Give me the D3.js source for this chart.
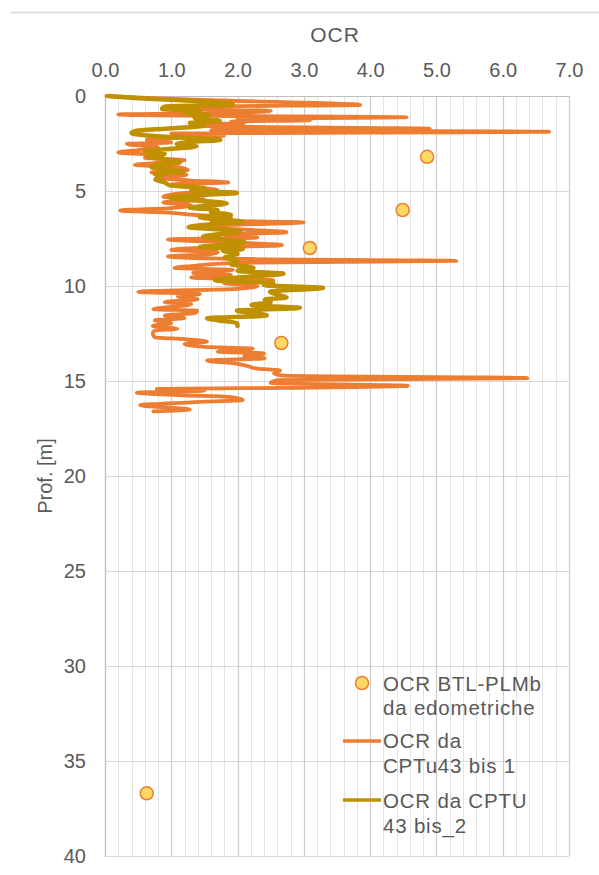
<!DOCTYPE html>
<html>
<head>
<meta charset="utf-8">
<script src="https://cdn.jsdelivr.net/npm/d3@7"></script>
<style>
  html, body { margin: 0; padding: 0; background: #ffffff; }
  svg { display: block; }
  text { font-family: "Liberation Sans", Arial, sans-serif; fill: #595959; }
</style>
</head>
<body>
<div id="chart"></div>
<script>
// OCR from oedometer tests (BTL-PLMb): [depth m, OCR]
const edoDepth = [3.2, 6.0, 8.0, 13.0, 36.7];
const edoOCR   = [4.86, 4.49, 3.09, 2.66, 0.63];

// OCR profile from CPTu43 bis 1: [depth m, OCR]
const cptu1 = [
  [0.00,0.02],[0.12,0.8],[0.25,1.9],[0.47,3.85],[0.55,1.7],[0.70,1.3],[0.78,2.5],[0.90,1.8],
  [0.97,0.2],[1.05,1.6],[1.12,4.55],[1.20,2.0],[1.27,3.1],[1.35,1.9],[1.42,2.1],[1.52,1.3],
  [1.62,2.0],[1.72,4.9],[1.80,1.6],[1.88,6.7],[1.98,1.0],[2.08,1.8],[2.20,1.1],[2.32,0.63],
  [2.45,1.0],[2.52,0.33],[2.70,0.8],[2.85,0.5],[2.97,0.2],[3.10,0.7],[3.25,0.6],[3.38,1.2],
  [3.50,0.9],[3.62,0.45],[3.75,1.1],[3.90,1.25],[4.02,0.7],[4.15,1.23],[4.30,0.8],[4.45,1.3],
  [4.55,1.86],[4.65,1.0],[4.80,1.3],[4.95,1.7],[5.10,1.2],[5.30,0.88],[5.45,1.5],[5.60,0.88],
  [5.75,1.3],[5.90,1.0],[6.02,0.23],[6.15,1.0],[6.25,1.33],[6.40,1.9],[6.55,1.6],[6.65,3.0],
  [6.78,1.9],[6.90,1.6],[7.05,2.2],[7.17,2.74],[7.30,1.8],[7.45,2.3],[7.55,0.95],[7.70,1.9],
  [7.85,2.67],[7.97,1.6],[8.10,1.0],[8.22,1.7],[8.32,1.6],[8.45,0.95],[8.58,2.2],[8.68,5.3],
  [8.78,2.0],[8.95,1.3],[9.05,1.05],[9.15,1.93],[9.30,1.33],[9.42,1.9],[9.55,1.3],[9.70,2.54],
  [9.85,1.8],[10.00,2.3],[10.15,2.0],[10.30,0.5],[10.42,1.43],[10.55,1.1],[10.70,1.4],[10.85,0.9],
  [10.95,1.3],[11.10,1.0],[11.22,0.73],[11.30,1.39],[11.42,1.36],[11.55,0.9],[11.68,1.2],[11.80,0.75],
  [11.95,1.0],[12.10,0.72],[12.25,1.09],[12.35,0.75],[12.50,0.72],[12.70,0.75],[12.80,1.2],[12.92,1.54],
  [13.05,1.2],[13.20,1.5],[13.30,2.23],[13.45,1.7],[13.55,2.4],[13.70,2.1],[13.80,2.41],[13.92,1.54],
  [14.05,1.9],[14.20,2.14],[14.35,2.3],[14.45,2.64],[14.60,2.55],[14.72,2.7],[14.85,6.37],[14.95,2.6],
  [15.10,2.5],[15.25,4.57],[15.35,3.1],[15.42,0.78],[15.50,1.5],[15.62,0.48],[15.75,1.2],[15.85,1.9],
  [16.00,2.08],[16.12,1.3],[16.28,0.53],[16.40,1.0],[16.50,1.28],[16.60,0.73]
];

// OCR profile from CPTU 43 bis_2: [depth m, OCR]
const cptu2 = [
  [0.00,0.05],[0.12,0.5],[0.25,1.3],[0.45,1.93],[0.55,0.9],[0.68,0.86],[0.78,1.43],[0.90,1.2],
  [1.00,1.58],[1.12,1.35],[1.22,1.39],[1.30,1.73],[1.42,1.28],[1.55,1.5],[1.70,1.0],[1.85,0.45],
  [1.95,0.4],[2.08,0.63],[2.20,1.2],[2.30,1.74],[2.42,1.3],[2.52,1.08],[2.65,1.38],[2.78,1.0],
  [2.92,0.6],[3.05,0.9],[3.20,0.65],[3.35,0.95],[3.50,1.13],[3.62,0.8],[3.75,0.7],[3.88,1.0],
  [4.00,1.18],[4.10,0.75],[4.25,0.85],[4.40,0.76],[4.55,0.9],[4.70,0.98],[4.85,1.5],[4.98,1.3],
  [5.10,1.99],[5.22,1.4],[5.35,0.98],[5.50,1.4],[5.65,1.84],[5.78,1.5],[5.88,1.28],[6.00,1.7],
  [6.12,1.6],[6.25,1.9],[6.38,1.43],[6.50,1.7],[6.62,2.08],[6.75,1.6],[6.90,1.26],[7.02,1.7],
  [7.15,2.04],[7.28,1.7],[7.40,1.48],[7.55,1.8],[7.70,2.11],[7.82,1.8],[7.95,1.43],[8.05,2.08],
  [8.15,1.78],[8.30,2.0],[8.50,1.81],[8.70,2.0],[8.85,1.9],[9.05,2.24],[9.20,2.0],[9.35,2.69],
  [9.50,2.2],[9.70,1.66],[9.85,2.54],[9.95,2.4],[10.10,3.29],[10.30,2.49],[10.45,2.6],[10.60,2.74],
  [10.72,2.41],[10.85,2.5],[11.00,2.21],[11.15,2.94],[11.30,1.99],[11.45,2.3],[11.55,2.44],[11.70,1.54],
  [11.80,1.7],[11.95,1.99],[12.10,2.0]
];

const xTicks = [0, 1, 2, 3, 4, 5, 6, 7];
const yTicks = [0, 5, 10, 15, 20, 25, 30, 35, 40];

const legendLabels = [
  ["OCR BTL-PLMb", "da edometriche"],
  ["OCR da", "CPTu43 bis 1"],
  ["OCR da CPTU", "43 bis_2"]
];

const colors = { edoFill: "#ffd966", edoStroke: "#ed7d31", cptu1: "#ed7d31", cptu2: "#bf9000" };

const W = 599, H = 875;
const plot = { left: 105, right: 569, top: 96, bottom: 856 };

const svg = d3.select("#chart").append("svg").attr("width", W).attr("height", H);

const x = d3.scaleLinear().domain([0, 7]).range([plot.left, plot.right]);
const y = d3.scaleLinear().domain([0, 40]).range([plot.top, plot.bottom]);

// separator line above the chart
svg.append("line").attr("x1", 10).attr("x2", W).attr("y1", 12.5).attr("y2", 12.5)
  .attr("stroke", "#d9d9d9").attr("stroke-width", 1.5);

// minor vertical gridlines every 0.2
const grid = svg.append("g");
grid.selectAll("line.minor").data(d3.range(0, 7.001, 0.2).filter(v => Math.abs(v - Math.round(v)) > 1e-6))
  .join("line").attr("class", "minor")
  .attr("x1", d => Math.round(x(d)) + 0.5).attr("x2", d => Math.round(x(d)) + 0.5)
  .attr("y1", plot.top).attr("y2", plot.bottom)
  .attr("stroke", "#e3e3e3").attr("stroke-width", 1);
// horizontal gridlines every 5 m
grid.selectAll("line.h").data(yTicks)
  .join("line").attr("class", "h")
  .attr("x1", plot.left).attr("x2", plot.right)
  .attr("y1", d => Math.round(y(d)) + 0.5).attr("y2", d => Math.round(y(d)) + 0.5)
  .attr("stroke", "#d9d9d9").attr("stroke-width", 1.2);
// major vertical gridlines every 1.0
grid.selectAll("line.major").data(xTicks)
  .join("line").attr("class", "major")
  .attr("x1", d => Math.round(x(d)) + 0.5).attr("x2", d => Math.round(x(d)) + 0.5)
  .attr("y1", plot.top).attr("y2", plot.bottom)
  .attr("stroke", "#cccccc").attr("stroke-width", 1.2);

// axes
const xAxis = svg.append("g").attr("transform", `translate(0,${plot.top})`)
  .call(d3.axisTop(x).tickValues(xTicks).tickSize(0).tickPadding(19).tickFormat(d3.format(".1f")));
const yAxis = svg.append("g").attr("transform", `translate(${plot.left},0)`)
  .call(d3.axisLeft(y).tickValues(yTicks).tickSize(0).tickPadding(19).tickFormat(d3.format("d")));
[xAxis, yAxis].forEach(a => {
  a.select(".domain").attr("stroke", "#bfbfbf").attr("stroke-width", 1.2);
  a.selectAll("text").attr("font-size", 20).attr("fill", "#595959")
    .attr("font-family", '"Liberation Sans", Arial, sans-serif');
});

// axis titles
svg.append("text").attr("x", 335).attr("y", 42).attr("text-anchor", "middle")
  .attr("font-size", 21).attr("letter-spacing", 1).text("OCR");
svg.append("text").attr("transform", `translate(52,${(plot.top + plot.bottom) / 2}) rotate(-90)`)
  .attr("text-anchor", "middle").attr("font-size", 20).text("Prof. [m]");

// profiles
const line = d3.line().x(d => x(d[1])).y(d => y(d[0])).curve(d3.curveMonotoneY);
svg.append("path").datum(cptu1).attr("d", line)
  .attr("fill", "none").attr("stroke", colors.cptu1).attr("stroke-width", 3.8)
  .attr("stroke-linejoin", "round").attr("stroke-linecap", "round");
svg.append("path").datum(cptu2).attr("d", line)
  .attr("fill", "none").attr("stroke", colors.cptu2).attr("stroke-width", 4.5)
  .attr("stroke-linejoin", "round").attr("stroke-linecap", "round");

// oedometer points
svg.append("g").selectAll("circle").data(edoDepth.map((d, i) => [d, edoOCR[i]]))
  .join("circle").attr("cx", d => x(d[1])).attr("cy", d => y(d[0])).attr("r", 6.5)
  .attr("fill", colors.edoFill).attr("stroke", colors.edoStroke).attr("stroke-width", 1.5);

// legend
const lg = svg.append("g");
lg.append("circle").attr("cx", 362).attr("cy", 683).attr("r", 6.5)
  .attr("fill", colors.edoFill).attr("stroke", colors.edoStroke).attr("stroke-width", 1.5);
lg.append("line").attr("x1", 343).attr("x2", 381).attr("y1", 741).attr("y2", 741)
  .attr("stroke", colors.cptu1).attr("stroke-width", 3.5);
lg.append("line").attr("x1", 343).attr("x2", 381).attr("y1", 800).attr("y2", 800)
  .attr("stroke", colors.cptu2).attr("stroke-width", 3.5);
const baselines = [[691, 715], [748, 773], [808, 833]];
legendLabels.forEach((lines, i) => {
  lines.forEach((t, j) => {
    lg.append("text").attr("x", 383).attr("y", baselines[i][j])
      .attr("font-size", 20.5).attr("letter-spacing", 0.8).text(t);
  });
});
</script>
</body>
</html>
